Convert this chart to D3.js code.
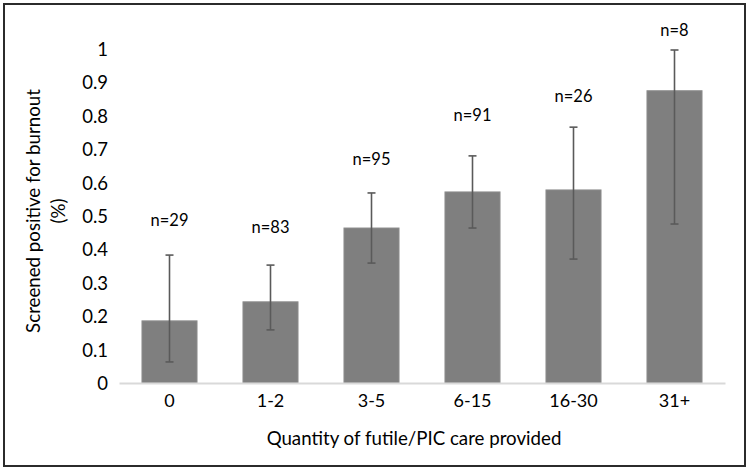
<!DOCTYPE html>
<html>
<head>
<meta charset="utf-8">
<script src="https://cdn.jsdelivr.net/npm/d3@7"></script>
<style>
  html, body { margin: 0; padding: 0; background: #fff; }
  svg { display: block; font-family: Lato, "Open Sans", sans-serif; }
</style>
</head>
<body>
<svg id="chart" width="750" height="471"></svg>
<script>
// ---- data ----
const categories = ["0", "1-2", "3-5", "6-15", "16-30", "31+"];
const values     = [0.186, 0.243, 0.464, 0.572, 0.578, 0.875];
const errLow     = [0.063, 0.159, 0.359, 0.464, 0.371, 0.476];
const errHigh    = [0.383, 0.353, 0.569, 0.680, 0.766, 0.997];
const nLabels    = ["n=29", "n=83", "n=95", "n=91", "n=26", "n=8"];
const nLabelAt   = [0.488, 0.467, 0.671, 0.802, 0.859, 1.057];
const yTicks     = [0, 0.1, 0.2, 0.3, 0.4, 0.5, 0.6, 0.7, 0.8, 0.9, 1];
const xTitle = "Quantity of futile/PIC care provided";
const yTitle = ["Screened positive for burnout", "(%)"];

// ---- layout ----
const svg = d3.select("#chart");
const W = 750, H = 471;
const plot = { left: 119, right: 725, top: 49, bottom: 383 };

svg.append("rect")
  .attr("x", 4).attr("y", 4).attr("width", W - 9).attr("height", H - 9)
  .attr("fill", "#fff").attr("stroke", "#2b2b2b").attr("stroke-width", 2);

const x = d3.scaleBand()
  .domain(categories)
  .range([plot.left, plot.right])
  .paddingInner(0.455)
  .paddingOuter(0.2275);

const y = d3.scaleLinear().domain([0, 1]).range([plot.bottom, plot.top]);

// y axis (labels only)
const yAxis = d3.axisLeft(y)
  .tickValues(yTicks)
  .tickSize(0)
  .tickPadding(0)
  .tickFormat(d => d === 0 ? "0" : String(+d.toFixed(1)));
const yg = svg.append("g").attr("transform", `translate(108,0)`).call(yAxis);
yg.select(".domain").remove();
yg.selectAll("text").attr("font-size", 18.5).attr("fill", "#000")
  .attr("font-family", "Lato, sans-serif").attr("dy", "0.35em");

// bars
const data = categories.map((c, i) => ({ c, v: values[i], lo: errLow[i], hi: errHigh[i], n: nLabels[i], ny: nLabelAt[i] }));

svg.append("g").selectAll("rect").data(data).join("rect")
  .attr("x", d => x(d.c))
  .attr("y", d => y(d.v))
  .attr("width", x.bandwidth())
  .attr("height", d => y(0) - y(d.v))
  .attr("fill", "#7f7f7f")
  .attr("stroke", "#8c8c8c").attr("stroke-width", 1);

// x axis
const xAxis = d3.axisBottom(x).tickSize(0).tickPadding(11);
const xg = svg.append("g").attr("transform", `translate(0,${y(0)})`).call(xAxis);
xg.select(".domain").attr("stroke", "#d9d9d9").attr("stroke-width", 2);
xg.selectAll("text").attr("font-size", 18).attr("fill", "#000")
  .attr("font-family", "Lato, sans-serif");

// error bars
const eg = svg.append("g").attr("stroke", "#5a5a5a").attr("stroke-width", 1.6);
data.forEach(d => {
  const cx = x(d.c) + x.bandwidth() / 2;
  eg.append("line").attr("x1", cx).attr("x2", cx).attr("y1", y(d.hi)).attr("y2", y(d.lo));
  eg.append("line").attr("x1", cx - 4).attr("x2", cx + 4).attr("y1", y(d.hi)).attr("y2", y(d.hi));
  eg.append("line").attr("x1", cx - 4).attr("x2", cx + 4).attr("y1", y(d.lo)).attr("y2", y(d.lo));
});

// n labels
svg.append("g").selectAll("text").data(data).join("text")
  .attr("x", d => x(d.c) + x.bandwidth() / 2)
  .attr("y", d => y(d.ny))
  .attr("dy", "0.35em")
  .attr("text-anchor", "middle")
  .attr("font-size", 16.5)
  .attr("fill", "#000")
  .text(d => d.n);

// axis titles
svg.append("text")
  .attr("x", 414).attr("y", 438).attr("dy", "0.35em")
  .attr("text-anchor", "middle")
  .attr("font-size", 18.7).attr("fill", "#000")
  .text(xTitle);

const yt = svg.append("text")
  .attr("transform", "translate(33,211) rotate(-90)")
  .attr("text-anchor", "middle")
  .attr("font-size", 18.7).attr("fill", "#000");
yt.append("tspan").attr("x", 0).attr("y", 0).attr("dy", "0.35em").text(yTitle[0]);
yt.append("tspan").attr("x", 0).attr("y", 25).attr("dy", "0.35em").text(yTitle[1]);
</script>
</body>
</html>
